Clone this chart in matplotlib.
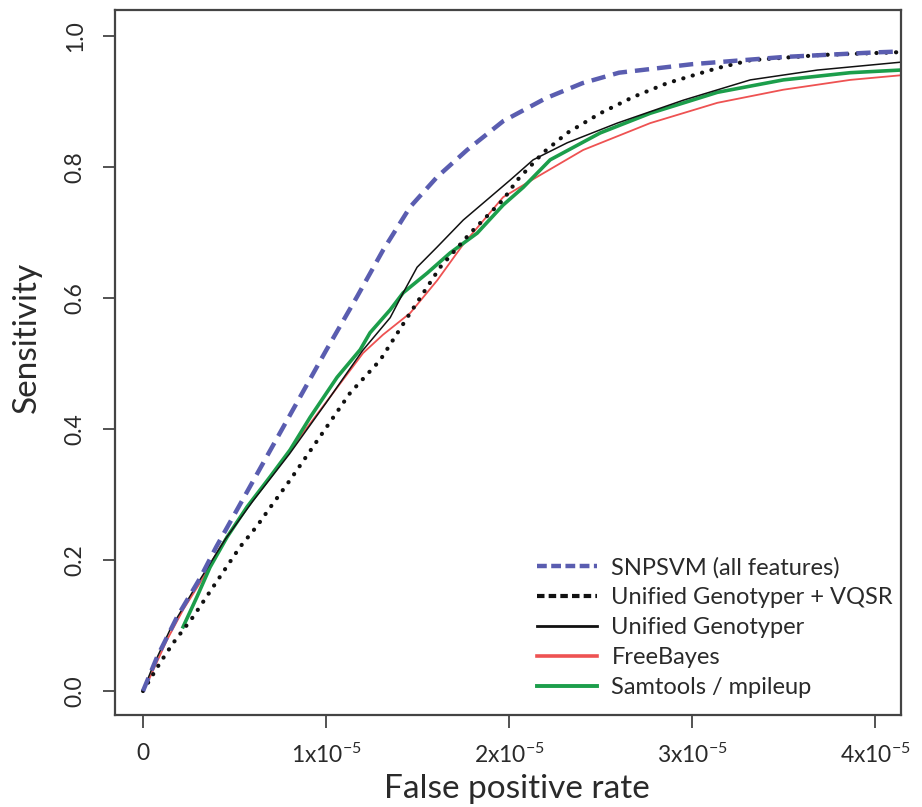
import matplotlib
matplotlib.use("Agg")
import matplotlib.pyplot as plt
from matplotlib.lines import Line2D
import numpy as np

plt.rcParams['font.family'] = ['Lato', 'DejaVu Sans']
plt.rcParams['mathtext.fontset'] = 'custom'
plt.rcParams['mathtext.rm'] = 'Lato'
plt.rcParams['mathtext.it'] = 'Lato'

SCALE = 1e-5

# SNPSVM (all features)
snpsvm_x = [0, 0.077, 0.186, 0.311, 0.40, 0.50, 0.60, 0.70, 0.80, 0.90, 1.00,
            1.169, 1.311, 1.459, 1.607, 1.770, 1.967, 2.2, 2.4, 2.6, 3.0, 3.5, 4.0, 4.3]
snpsvm_y = [0, 0.052, 0.113, 0.172, 0.22, 0.27, 0.32, 0.37, 0.42, 0.47, 0.52,
            0.602, 0.673, 0.739, 0.785, 0.826, 0.870, 0.905, 0.928, 0.944, 0.957, 0.968, 0.975, 0.978]

# Unified Genotyper + VQSR
vqsr_x = [0, 0.093, 0.164, 0.273, 0.383, 0.530, 0.623, 0.694, 0.803, 1.131, 1.295, 1.459,
          1.623, 1.787, 1.967, 2.044, 2.186, 2.317, 2.497, 2.678, 2.863, 3.137, 3.317, 3.70, 4.3]
vqsr_y = [0, 0.043, 0.073, 0.113, 0.159, 0.220, 0.252, 0.280, 0.322, 0.455, 0.505, 0.577,
          0.647, 0.699, 0.750, 0.780, 0.822, 0.852, 0.882, 0.907, 0.928, 0.951, 0.963, 0.971, 0.977]

# Unified Genotyper
ug_x = [0, 0.05, 0.15, 0.30, 0.45, 0.60, 0.80, 1.00, 1.20, 1.35, 1.421, 1.497, 1.607, 1.749,
        1.896, 2.005, 2.131, 2.317, 2.590, 2.951, 3.317, 3.683, 4.137, 4.3]
ug_y = [0, 0.035, 0.095, 0.165, 0.232, 0.29, 0.362, 0.44, 0.52, 0.57, 0.608, 0.647, 0.678, 0.719,
        0.754, 0.780, 0.811, 0.837, 0.867, 0.902, 0.933, 0.948, 0.960, 0.963]

# FreeBayes
fb_x = [0, 0.038, 0.131, 0.219, 0.311, 0.421, 0.530, 0.710, 0.874, 1.022, 1.202, 1.311, 1.459,
        1.607, 1.749, 1.967, 2.153, 2.404, 2.770, 3.137, 3.497, 3.863, 4.137, 4.3]
fb_y = [0, 0.021, 0.078, 0.124, 0.165, 0.220, 0.266, 0.333, 0.394, 0.449, 0.516, 0.544, 0.577,
        0.627, 0.682, 0.754, 0.785, 0.826, 0.867, 0.898, 0.918, 0.933, 0.940, 0.943]

# Samtools / mpileup
st_x = [0.219, 0.295, 0.366, 0.459, 0.568, 0.694, 0.803, 0.913, 1.060, 1.186, 1.240, 1.350,
        1.421, 1.552, 1.678, 1.825, 1.967, 2.077, 2.224, 2.497, 2.770, 3.137, 3.497, 3.863, 4.137, 4.3]
st_y = [0.098, 0.144, 0.189, 0.235, 0.281, 0.327, 0.368, 0.418, 0.479, 0.521, 0.547, 0.582,
        0.608, 0.638, 0.669, 0.699, 0.742, 0.769, 0.811, 0.852, 0.882, 0.914, 0.933, 0.944, 0.948, 0.950]

labels = ["SNPSVM (all features)", "Unified Genotyper + VQSR", "Unified Genotyper",
          "FreeBayes", "Samtools / mpileup"]
xticks = [0, 1, 2, 3, 4]
xtick_labels = ["0", r"1x10$^{-5}$", r"2x10$^{-5}$", r"3x10$^{-5}$", r"4x10$^{-5}$"]
yticks = [0.0, 0.2, 0.4, 0.6, 0.8, 1.0]

c_blue = "#5a5db0"
c_black = "#111111"
c_red = "#ee5252"
c_green = "#1c9e4b"
c_text = "#2a2a2a"

fig = plt.figure(figsize=(9.22, 8.07), dpi=100)
ax = fig.add_axes([115/922, 1-715/807, (901-115)/922, (715-10)/807])

def sx(v):
    return np.array(v) * SCALE

ax.plot(sx(fb_x), fb_y, color=c_red, lw=1.3)
ax.plot(sx(st_x), st_y, color=c_green, lw=2.6)
ax.plot(sx(ug_x), ug_y, color=c_black, lw=1.1)
ax.plot(sx(vqsr_x), vqsr_y, color=c_black, lw=3.0, linestyle=(0, (0.05, 2.3)),
        dash_capstyle='round')
ax.plot(sx(snpsvm_x), snpsvm_y, color=c_blue, lw=3.2, linestyle=(0, (3.2, 1.8)))

ax.set_xlim(-0.153e-5, 4.14e-5)
ax.set_ylim(-0.0366, 1.0397)
ax.set_xticks([t * SCALE for t in xticks])
ax.set_xticklabels(xtick_labels)
ax.set_yticks(yticks)
ax.set_yticklabels([f"{v:.1f}" for v in yticks], rotation=90, va='center')

for s in ax.spines.values():
    s.set_color("#444444")
    s.set_linewidth(1.6)
ax.tick_params(axis='both', length=9, width=1.3, color="#444444", labelsize=16.5,
               labelcolor=c_text)
ax.tick_params(axis='x', pad=11)
ax.tick_params(axis='y', pad=12)

ax.set_xlabel("False positive rate", fontsize=24, color=c_text, va='center')
ax.xaxis.set_label_coords((517-115)/786, (715-789)/705)
ax.set_ylabel("Sensitivity", fontsize=24, color=c_text, va='center')
ax.yaxis.set_label_coords((27-115)/786, (715-337)/705)

handles = [
    Line2D([], [], color=c_blue, lw=3.2, linestyle=(0, (2.2, 1.0))),
    Line2D([], [], color=c_black, lw=3.0, linestyle=(0, (1.8, 1.0))),
    Line2D([], [], color=c_black, lw=2.0),
    Line2D([], [], color=c_red, lw=2.6),
    Line2D([], [], color=c_green, lw=2.8),
]
leg = ax.legend(handles, labels, loc='upper left', bbox_to_anchor=(537/922, 1-557/807),
                bbox_transform=fig.transFigure, frameon=False, fontsize=17,
                handlelength=2.55, handletextpad=0.6, labelspacing=0.38,
                borderpad=0, borderaxespad=0)
for t in leg.get_texts():
    t.set_color(c_text)

fig.savefig("out.png", dpi=100)
